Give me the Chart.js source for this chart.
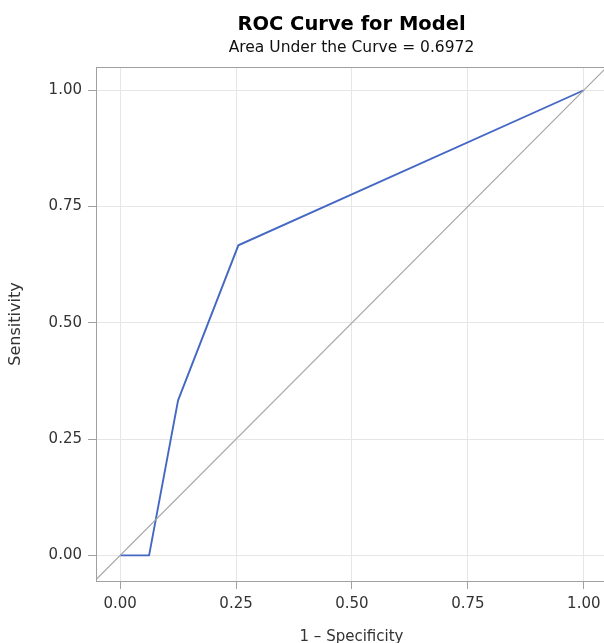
<!DOCTYPE html>
<html>
<head>
<meta charset="utf-8">
<script src="https://cdn.jsdelivr.net/npm/chart.js@4.4.0/dist/chart.umd.min.js"></script>
<style>
  body { margin: 0; overflow: hidden; background: #fff; }
  #roc { display: block; }
</style>
</head>
<body>
<canvas id="roc" width="608" height="643"></canvas>
<script>
// ROC points
const fpr = [0, 0.0625, 0.125, 0.255, 1];
const tpr = [0, 0, 0.3333, 0.6667, 1];
// chance diagonal
const diagX = [-0.06, 1.06];
const diagY = [-0.06, 1.06];
const tickValues = [0, 0.25, 0.5, 0.75, 1];
const auc = 0.6972;

const frameColor = "#a0a0a0";
const gridColor = "#e6e6e6";
const textColor = "#333333";

// full box around the plot area (chart.js only draws the axis side)
const framePlugin = {
  id: "frame",
  afterDatasetsDraw(chart) {
    const a = chart.chartArea;
    const ctx = chart.ctx;
    ctx.save();
    ctx.strokeStyle = frameColor;
    ctx.lineWidth = 1;
    ctx.strokeRect(Math.round(a.left) + 0.5, Math.round(a.top) + 0.5,
      Math.round(a.right - a.left), Math.round(a.bottom - a.top));
    ctx.restore();
  },
};

function axis(title, min, max, fitSize, titleFont, titlePad) {
  return {
    type: "linear",
    min: min,
    max: max,
    afterBuildTicks(scale) {
      scale.ticks = tickValues.map((v) => ({ value: v }));
    },
    afterFit(scale) {
      if (scale.isHorizontal()) scale.height = fitSize;
      else scale.width = fitSize;
    },
    grid: {
      color: gridColor,
      tickColor: frameColor,
      tickLength: 8,
      lineWidth: 1,
    },
    border: { display: false },
    ticks: {
      padding: 6,
      color: textColor,
      font: { family: "DejaVu Sans", size: 15 },
      callback: (v) => Number(v).toFixed(2),
    },
    title: {
      display: true,
      text: title,
      color: textColor,
      padding: titlePad,
      font: titleFont,
    },
  };
}

const ctx = document.getElementById("roc").getContext("2d");
new Chart(ctx, {
  type: "line",
  data: {
    datasets: [
      {
        label: "Chance",
        data: diagX.map((x, i) => ({ x: x, y: diagY[i] })),
        borderColor: "#a6a6a6",
        borderWidth: 1.2,
        pointRadius: 0,
        fill: false,
      },
      {
        label: "ROC",
        data: fpr.map((x, i) => ({ x: x, y: tpr[i] })),
        borderColor: "#4468c4",
        borderWidth: 1.9,
        pointRadius: 0,
        tension: 0,
        fill: false,
      },
    ],
  },
  options: {
    responsive: false,
    animation: false,
    layout: { padding: { top: 0, right: 1, bottom: 0, left: 0 } },
    plugins: {
      legend: { display: false },
      tooltip: { enabled: false },
      title: {
        display: true,
        fullSize: false,
        text: "ROC Curve for Model",
        color: "#000",
        font: { family: "DejaVu Sans", size: 19.5, weight: "bold" },
        padding: { top: 13, bottom: 2 },
      },
      subtitle: {
        display: true,
        fullSize: false,
        text: "Area Under the Curve = " + auc.toFixed(4),
        color: "#111",
        font: { family: "DejaVu Sans", size: 15.5 },
        padding: { top: 0, bottom: 10 },
      },
    },
    scales: {
      x: axis("1 – Specificity", -0.052, 1.05, 62,
        { family: "DejaVu Sans", size: 15, lineHeight: 1 }, { top: 6, bottom: -2 }),
      y: axis("Sensitivity", -0.055, 1.05, 96,
        { family: "DejaVu Sans", size: 16 }, { top: 6, bottom: 0 }),
    },
  },
  plugins: [framePlugin],
});
</script>
</body>
</html>
